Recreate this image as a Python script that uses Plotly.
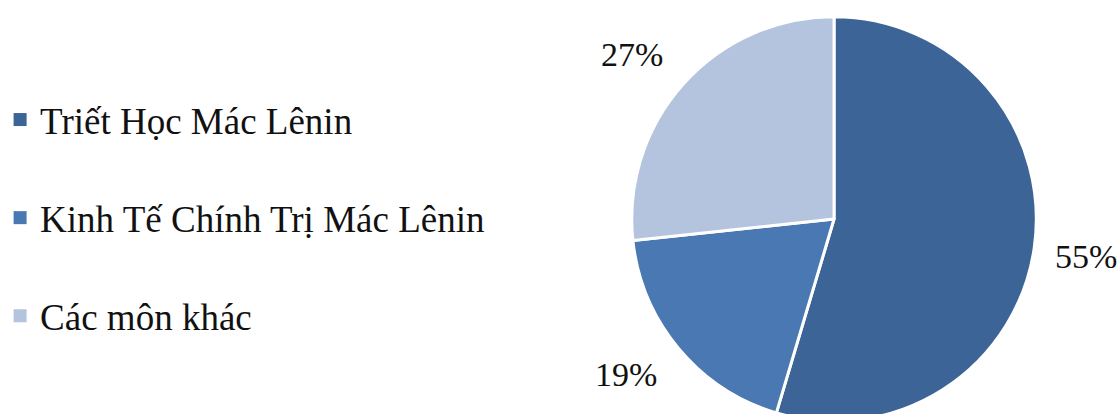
import math
import plotly.graph_objects as go

labels = ["Triết Học Mác Lênin", "Kinh Tế Chính Trị Mác Lênin", "Các môn khác"]
values = [54.6, 18.7, 26.7]
colors = ["#3C6496", "#4A78B2", "#B5C4DE"]

W, H = 1120, 424
cx, cy, r = 833, 219, 203
label_radius = 1.29
label_nudge = [(-6, 0), (-8, -12), (-8, 11)]  # pixel tweaks of label positions

fig = go.Figure()
fig.add_trace(go.Pie(
    labels=labels, values=values, sort=False, direction="clockwise", rotation=0,
    marker=dict(colors=colors, line=dict(color="white", width=3)),
    textinfo="none", hoverinfo="label+percent", showlegend=False,
    domain=dict(x=[(cx - r) / W, (cx + r) / W], y=[(H - cy - r) / H, (H - cy + r) / H]),
))

for i, (lab, col) in enumerate(zip(labels, colors)):
    fig.add_trace(go.Scatter(
        x=[None], y=[None], mode="markers", name=lab, legendgroup=f"g{i}",
        marker=dict(symbol="square", size=13, color=col),
    ))

total = sum(values)
cum = 0
for v, (dx, dy) in zip(values, label_nudge):
    mid = (cum + v / 2) / total * 2 * math.pi
    cum += v
    px = cx + label_radius * r * math.sin(mid) + dx
    py = cy - label_radius * r * math.cos(mid) + dy
    fig.add_annotation(
        x=px / W, y=1 - py / H, xref="paper", yref="paper",
        text=f"{round(v / total * 100)}%", showarrow=False,
        font=dict(family="Liberation Serif", size=34, color="#111111"),
        xanchor="center", yanchor="middle",
    )

fig.update_layout(
    width=W, height=H, margin=dict(l=0, r=0, t=0, b=0),
    paper_bgcolor="white", plot_bgcolor="white",
    xaxis=dict(visible=False), yaxis=dict(visible=False),
    legend=dict(x=-0.0035, y=1 - 89 / H, xanchor="left", yanchor="top",
                font=dict(family="Liberation Serif", size=37, color="#111111"),
                tracegroupgap=47, itemwidth=30, bgcolor="rgba(0,0,0,0)"),
    font=dict(family="Liberation Serif"),
)

fig.write_html("out.html", config={"displayModeBar": False},
               post_script="document.documentElement.style.overflow='hidden';document.body.style.overflow='hidden';document.body.style.margin='0';")
